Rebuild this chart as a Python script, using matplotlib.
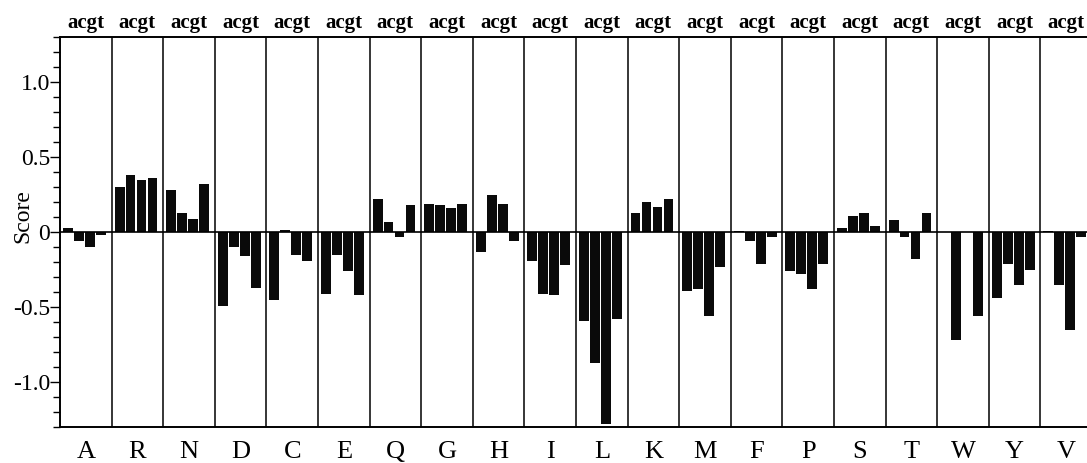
import numpy as np
import matplotlib
matplotlib.use("Agg")
import matplotlib.pyplot as plt
from matplotlib.ticker import FixedLocator

# Amino acids (one panel each) and the four nucleotides within each panel
amino_acids = ["A", "R", "N", "D", "C", "E", "Q", "G", "H", "I",
               "L", "K", "M", "F", "P", "S", "T", "W", "Y", "V"]
nucleotides = "acgt"

score_a = [0.03, 0.30, 0.28, -0.49, -0.45, -0.41, 0.22, 0.19, -0.13, -0.19,
           -0.59, 0.13, -0.39, 0.01, -0.26, 0.03, 0.08, 0.00, -0.44, 0.01]
score_c = [-0.06, 0.38, 0.13, -0.10, 0.015, -0.15, 0.07, 0.18, 0.25, -0.41,
           -0.87, 0.20, -0.38, -0.06, -0.28, 0.11, -0.03, -0.72, -0.21, -0.35]
score_g = [-0.10, 0.35, 0.09, -0.16, -0.15, -0.26, -0.03, 0.16, 0.19, -0.42,
           -1.28, 0.17, -0.56, -0.21, -0.38, 0.13, -0.18, 0.00, -0.35, -0.65]
score_t = [-0.02, 0.36, 0.32, -0.37, -0.19, -0.42, 0.18, 0.19, -0.06, -0.22,
           -0.58, 0.22, -0.23, -0.03, -0.21, 0.04, 0.13, -0.56, -0.25, -0.03]

serif = ["Liberation Serif", "DejaVu Serif"]
plt.rcParams["font.family"] = serif

fig = plt.figure(figsize=(10.87, 4.63), dpi=100)
ax = fig.add_axes([60 / 1087, 36 / 463, 1032 / 1087, 390 / 463])

n = len(amino_acids)
slot = 0.213
first = 0.155
width = 0.19
for j, series in enumerate([score_a, score_c, score_g, score_t]):
    x = np.arange(n) + first + j * slot
    ax.bar(x, series, width=width, color="#0a0a0a", edgecolor="none", zorder=3)

# panel separators and zero line
for k in range(1, n):
    ax.axvline(k, color="black", lw=1.1, zorder=2)
ax.axhline(0, color="black", lw=1.2, zorder=4)

ax.set_xlim(0, n)
ax.set_ylim(-1.3, 1.3)

# y axis: major every 0.5, minor every 0.1
ax.yaxis.set_major_locator(FixedLocator([-1.0, -0.5, 0.0, 0.5, 1.0]))
ax.set_yticklabels(["-1.0", "-0.5", "0", "0.5", "1.0"])
ax.yaxis.set_minor_locator(FixedLocator(np.round(np.arange(-13, 14) * 0.1, 2)))
ax.tick_params(axis="y", which="major", length=7, width=1.0, pad=0, labelsize=17)
ax.tick_params(axis="y", which="minor", length=5, width=1.0)
ax.set_ylabel("Score", fontsize=17, labelpad=2)
ax.yaxis.set_label_coords(-0.026, 0.54)

# bottom: amino acid letters
ax.set_xticks(np.arange(n) + 0.5)
ax.set_xticklabels(amino_acids, fontsize=19)
ax.tick_params(axis="x", which="both", length=0, pad=10)

# top: nucleotide labels over each panel
top = ax.secondary_xaxis("top")
top.set_xticks(np.arange(n) + 0.5)
top.set_xticklabels([nucleotides] * n, fontsize=15, fontweight="bold")
top.tick_params(axis="x", length=0, pad=3)
top.spines["top"].set_visible(False)

for side in ["left", "right", "top", "bottom"]:
    ax.spines[side].set_linewidth(1.4)

fig.savefig("out.png", dpi=100)
